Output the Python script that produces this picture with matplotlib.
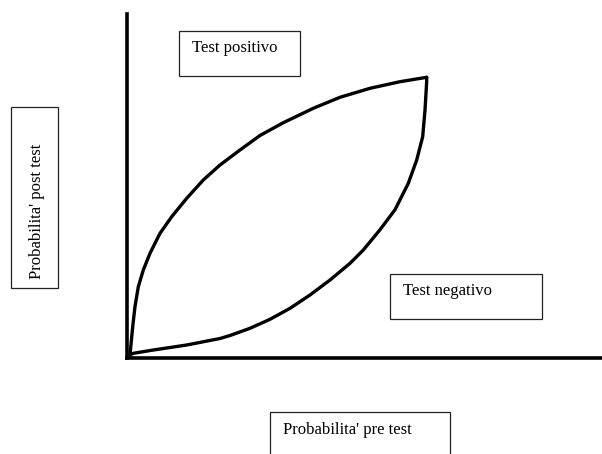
import matplotlib
matplotlib.use("Agg")
import matplotlib.pyplot as plt
from matplotlib.patches import Rectangle

# Curve readings, in % of axis length (pre test -> post test probability)
pos_pre = [0.63, 1.20, 1.68, 2.38, 3.43, 4.84, 6.95, 9.41, 12.57, 16.06, 19.58,
           23.79, 28.00, 32.91, 39.22, 44.84, 51.16, 57.47, 63.09]
pos_post = [0.73, 8.97, 14.79, 20.61, 25.47, 30.33, 36.16, 40.99, 46.35, 51.67, 56.04,
            60.41, 64.63, 68.36, 72.55, 75.75, 78.37, 80.29, 81.57]

neg_pre = [63.09, 63.09, 62.74, 62.25, 60.99, 59.22, 56.42, 53.26, 49.75, 46.95, 42.74,
           38.53, 34.32, 30.11, 25.89, 21.68, 19.58, 12.57, 5.54, 1.33, 0.63]
neg_post = [81.57, 80.29, 72.05, 64.28, 57.50, 50.71, 43.01, 37.19, 31.30, 27.42, 22.56,
            18.20, 14.32, 11.12, 8.50, 6.40, 5.53, 3.64, 2.18, 1.22, 0.73]

label_pos = "Test positivo"
label_neg = "Test negativo"
label_x = "Probabilita' pre test"
label_y = "Probabilita' post test"

plt.rcParams['font.family'] = ['Liberation Serif', 'DejaVu Serif']

W, H = 602, 454
fig = plt.figure(figsize=(W / 100, H / 100), dpi=100)

# main plot area: only left and bottom axis lines
ax = fig.add_axes([127 / W, (H - 357.5) / H, 475 / W, 343.5 / H])
ax.set_xlim(0, 100)
ax.set_ylim(0, 100)
ax.plot(pos_pre, pos_post, color='black', lw=2.4, solid_capstyle='round', solid_joinstyle='round')
ax.plot(neg_pre, neg_post, color='black', lw=2.4, solid_capstyle='round', solid_joinstyle='round')
for s in ['top', 'right']:
    ax.spines[s].set_visible(False)
for s in ['left', 'bottom']:
    ax.spines[s].set_linewidth(2.6)
    ax.spines[s].set_color('black')
ax.set_xticks([])
ax.set_yticks([])
ax.patch.set_alpha(0)

# overlay in pixel units for the label boxes
ov = fig.add_axes([0, 0, 1, 1])
ov.set_xlim(0, W)
ov.set_ylim(H, 0)
ov.axis('off')
ov.patch.set_alpha(0)

boxes = [
    (178.5, 30.7, 121, 45.5),   # test positivo
    (390, 274, 152, 45),        # test negativo
    (10.7, 107, 47, 181),       # post test
    (270, 412, 180, 60),        # pre test
]
for bx, by, bw, bh in boxes:
    ov.add_patch(Rectangle((bx, by), bw, bh, fill=False, ec='#222222', lw=0.9))

ov.text(192, 48, label_pos, fontsize=12, ha='left', va='center')
ov.text(403, 291, label_neg, fontsize=12, ha='left', va='center')
ov.text(283, 430, label_x, fontsize=12, ha='left', va='center')
ov.text(37, 211, label_y, fontsize=12, ha='center', va='center', rotation=90)

fig.savefig('out.png', dpi=100)
